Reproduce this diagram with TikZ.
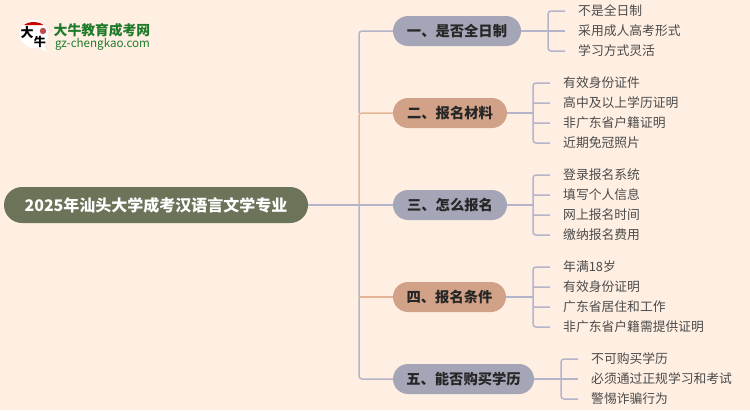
\documentclass[tikz,border=0pt]{standalone}
\usepackage{fontspec}
\setmainfont{Noto Sans CJK SC}
\definecolor{bgc}{HTML}{FFEFE2}
\definecolor{rootc}{HTML}{6B7359}
\definecolor{bluec}{HTML}{A5A5B8}
\definecolor{orangec}{HTML}{D2A288}
\definecolor{linec}{HTML}{B4B4CA}
\definecolor{linec2}{HTML}{E3B498}
\definecolor{leafc}{HTML}{4A4A4A}
\definecolor{logog}{HTML}{1E7B2A}
\tikzset{
  x=1pt,y=-1pt,
  rootbox/.style={fill=rootc,rounded corners=18pt,minimum height=36pt,inner sep=0pt,font=\bfseries\fontsize{16}{16}\selectfont,text=white},
  bluebox/.style={fill=bluec,rounded corners=15pt,minimum height=30pt,inner sep=0pt,font=\bfseries\fontsize{14.3}{14}\selectfont,text=black!85},
  orangebox/.style={fill=orangec,rounded corners=15pt,minimum height=30pt,inner sep=0pt,font=\bfseries\fontsize{14.3}{14}\selectfont,text=black!85},
  leaf/.style={anchor=west,inner sep=0pt,font=\fontsize{12.8}{13}\selectfont,text=leafc},
  conn/.style={draw=linec,line width=1.5pt,rounded corners=3pt},
  connw/.style={draw=linec2,line width=1.5pt,rounded corners=3pt},
}
\begin{document}
\begin{tikzpicture}
\useasboundingbox[fill=bgc] (0,0) rectangle (750,410);
% logo
\fill[white] (34,34) circle (14);
\fill[white] (36,45) -- (44,44) -- (46,52) -- cycle;
\fill[red!80!black] (24,25) arc (215:325:12 and 7) -- cycle;
\fill[red!65!black,opacity=.7] (43,31) circle (3.2);
\node[inner sep=0pt,font=\bfseries\fontsize{13}{13}\selectfont] (lg1) at (27,33) {大};
\node[inner sep=0pt,font=\bfseries\fontsize{12}{12}\selectfont] (lg2) at (40,42) {牛};
\node[inner sep=0pt,font=\bfseries\fontsize{13.8}{14}\selectfont,text=logog] (lt1) at (102,30) {大牛教育成考网};
\node[inner sep=0pt,font=\fontsize{11.6}{12}\selectfont,text=logog] (lt2) at (102.5,44.5) {gz-chengkao.com};
% nodes
\node[rootbox,minimum width=304pt] (root) at (156,205) {2025年汕头大学成考汉语言文学专业};
\node[bluebox,minimum width=128pt] (t1) at (457,31) {一、是否全日制};
\node[orangebox,minimum width=114pt] (t2) at (450,113) {二、报名材料};
\node[bluebox,minimum width=114pt] (t3) at (450,205) {三、怎么报名};
\node[orangebox,minimum width=113pt] (t4) at (449.5,297) {四、报名条件};
\node[bluebox,minimum width=141pt] (t5) at (463.5,379) {五、能否购买学历};
\coordinate (tr) at (359,205);
% trunk
\draw[conn] (359,113) -- (359,31) -- (t1.west);
\draw[conn] (tr) -- (359,379) -- (t5.west);
\draw[connw] (tr) -- (359,113) -- (t2.west);
\draw[connw] (359,297) -- (t4.west);
\draw[conn] (root.east) -- (t3.west);
% leaves
\foreach \n/\tx/\y in {a/不是全日制/11,b/采用成人高考形式/31,c/学习方式灵活/51}
  \node[leaf] (l1\n) at (578,\y) {\tx};
\foreach \n/\tx/\y in {a/有效身份证件/83,b/高中及以上学历证明/103,c/非广东省户籍证明/123,d/近期免冠照片/143}
  \node[leaf] (l2\n) at (563,\y) {\tx};
\foreach \n/\tx/\y in {a/登录报名系统/175,b/填写个人信息/195,c/网上报名时间/215,d/缴纳报名费用/235}
  \node[leaf] (l3\n) at (563,\y) {\tx};
\foreach \n/\tx/\y in {a/年满18岁/267,b/有效身份证明/287,c/广东省居住和工作/307,d/非广东省户籍需提供证明/327}
  \node[leaf] (l4\n) at (563,\y) {\tx};
\foreach \n/\tx/\y in {a/不可购买学历/359,b/必须通过正规学习和考试/379,c/警惕诈骗行为/399}
  \node[leaf] (l5\n) at (591,\y) {\tx};
% branch lines
\draw[conn] (t1.east) -- (565,31);
\draw[conn] (565,11) -- (548,11) -- (548,51) -- (565,51);
\draw[conn] (t2.east) -- (533,113);
\draw[conn] (550,83) -- (533,83) -- (533,143) -- (550,143) (533,103) -- (550,103) (533,123) -- (550,123);
\draw[conn] (t3.east) -- (533,205);
\draw[conn] (550,175) -- (533,175) -- (533,235) -- (550,235) (533,195) -- (550,195) (533,215) -- (550,215);
\draw[conn] (t4.east) -- (533,297);
\draw[conn] (550,267) -- (533,267) -- (533,327) -- (550,327) (533,287) -- (550,287) (533,307) -- (550,307);
\draw[conn] (t5.east) -- (578,379);
\draw[conn] (578,359) -- (561,359) -- (561,399) -- (578,399);
\end{tikzpicture}
\end{document}
